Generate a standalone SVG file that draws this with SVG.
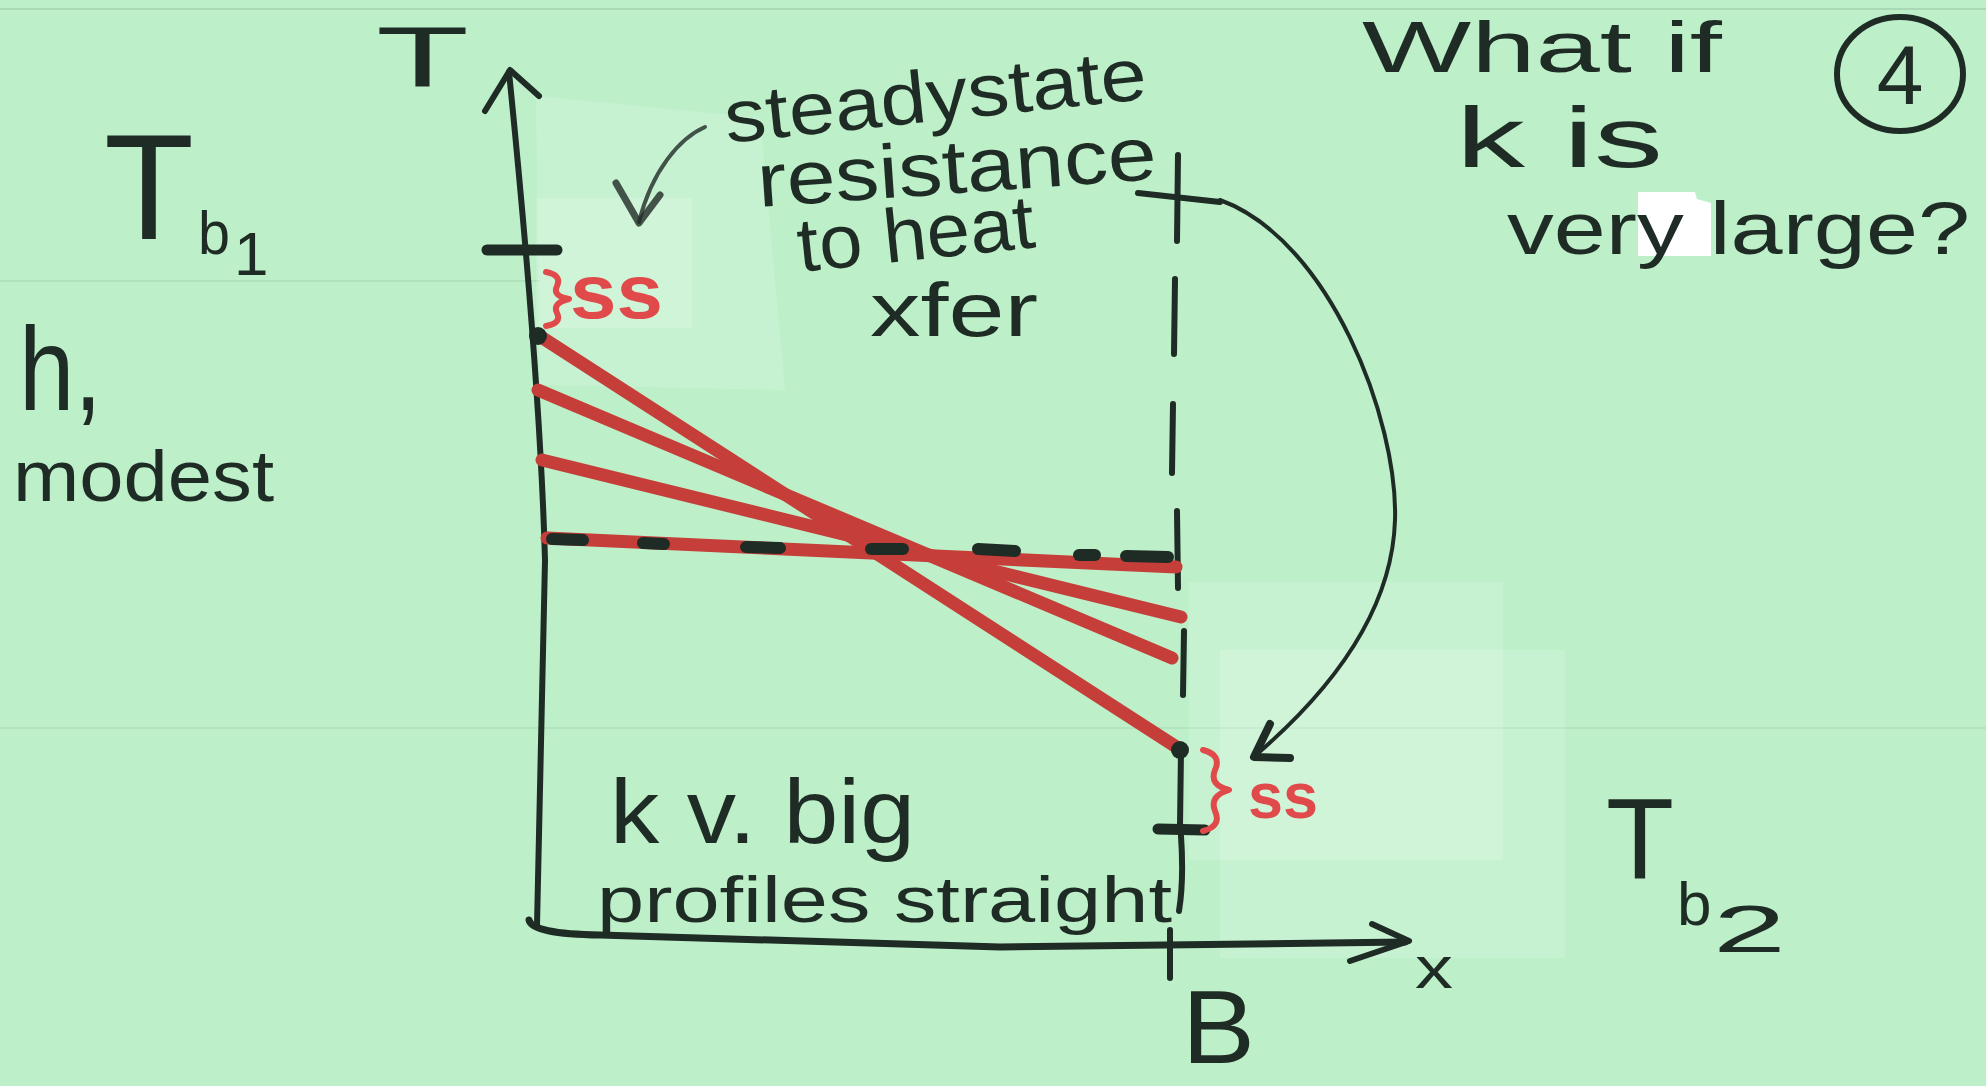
<svg xmlns="http://www.w3.org/2000/svg" width="1986" height="1086" viewBox="0 0 1986 1086">
<defs>
<style>
.ink{fill:none;stroke:#1f2b25;stroke-linecap:round;stroke-linejoin:round}
.red{fill:none;stroke:#c63e3a;stroke-width:13;stroke-linecap:round}
.rb{fill:none;stroke:#e04a4a;stroke-width:6;stroke-linecap:round;stroke-linejoin:round}
.t{font-family:"Liberation Sans","DejaVu Sans",sans-serif;fill:#1f2b25}
.rt{font-family:"Liberation Sans","DejaVu Sans",sans-serif;fill:#e04a4a;font-weight:bold}
.tape{fill:#ffffff;opacity:0.16}
</style>
</defs>
<rect width="1986" height="1086" fill="#bdf0c9"/>
<line x1="0" y1="9" x2="1986" y2="9" stroke="#a8d8b4" stroke-width="2"/>
<line x1="0" y1="281" x2="540" y2="281" stroke="#b0e2bc" stroke-width="2"/>
<line x1="0" y1="728" x2="1986" y2="728" stroke="#b3e4bf" stroke-width="2"/>
<g id="tapes">
<polygon class="tape" points="536,96 760,118 785,390 540,385"/>
<rect class="tape" x="536" y="198" width="156" height="130"/>
<rect class="tape" x="1189" y="582" width="314" height="278"/>
<rect class="tape" x="1220" y="650" width="345" height="308"/>
</g>
<g id="connectors">
<path id="y-axis" class="ink" stroke-width="6" d="M509,72 Q540,380 545,560 L537,926"/>
<path class="ink" stroke-width="6" d="M485,111 L510,70 L539,96"/>
<path id="x-axis" class="ink" stroke-width="7" d="M529,920 Q532,934 600,935 L1000,947 L1405,942"/>
<path class="ink" stroke-width="6" d="M1372,924 L1409,941 L1350,961"/>
<line class="ink" stroke-width="11" x1="487" y1="250" x2="557" y2="250"/>
<line class="ink" stroke-width="6" x1="1170" y1="930" x2="1170" y2="978"/>
<g id="boundary-dashes" class="ink" stroke-width="6">
<line x1="1178" y1="155" x2="1177" y2="241"/>
<line x1="1138" y1="193" x2="1220" y2="202"/>
<line x1="1175" y1="279" x2="1174" y2="354"/>
<line x1="1173" y1="404" x2="1172" y2="473"/>
<line x1="1177" y1="511" x2="1178" y2="588"/>
<line x1="1184" y1="631" x2="1183" y2="695"/>
<path d="M1181,750 L1180,826 M1181,836 Q1184,880 1179,911"/>
<line stroke-width="11" x1="1158" y1="829" x2="1205" y2="830"/>
</g>
<path id="curved-arrow" class="ink" stroke-width="4" d="M1220,200 C1330,240 1398,420 1395,520 C1392,620 1320,700 1256,755"/>
<path class="ink" stroke-width="8" d="M1270,724 L1254,757 L1290,758"/>
<path id="small-arrow" class="ink" stroke-width="4" opacity="0.8" d="M705,127 C680,138 652,170 639,222"/>
<path class="ink" stroke-width="7" opacity="0.8" d="M616,183 L639,223 L660,195"/>
</g>
<g id="profiles">
<line class="red" x1="538" y1="335" x2="1178" y2="748"/>
<line class="red" x1="538" y1="390" x2="1172" y2="658"/>
<line class="red" x1="542" y1="460" x2="1181" y2="617"/>
<line class="red" x1="547" y1="538" x2="1176" y2="567"/>
<g class="ink" stroke-width="12">
<line x1="552" y1="539" x2="583" y2="540"/>
<line x1="643" y1="543" x2="664" y2="544"/>
<line x1="746" y1="547" x2="780" y2="548"/>
<line x1="871" y1="549" x2="903" y2="549"/>
<line x1="978" y1="549" x2="1015" y2="551"/>
<line x1="1079" y1="555" x2="1095" y2="555"/>
<line x1="1126" y1="556" x2="1168" y2="557"/>
</g>
<circle cx="538" cy="336" r="9" fill="#1f2b25"/>
<circle cx="1180" cy="750" r="9" fill="#1f2b25"/>
</g>
<g id="ss-top">
<path class="rb" d="M546,272 Q562,275 557,286 Q552,296 569,299 Q552,303 557,313 Q562,323 546,326"/>
<text class="rt" x="570" y="318" font-size="76" textLength="93" lengthAdjust="spacingAndGlyphs">ss</text>
</g>
<g id="ss-bottom">
<path class="rb" d="M1203,750 Q1222,755 1215,770 Q1209,785 1229,790 Q1209,796 1215,811 Q1222,826 1203,831"/>
<text class="rt" x="1248" y="818" font-size="64" textLength="70" lengthAdjust="spacingAndGlyphs">ss</text>
</g>
<g id="label-T">
<text class="t" x="376" y="86" font-size="85" textLength="93" lengthAdjust="spacingAndGlyphs">T</text>
</g>
<g id="label-Tb1">
<text class="t" x="104" y="239" font-size="150" textLength="90" lengthAdjust="spacingAndGlyphs">T</text>
<text class="t" x="198" y="254" font-size="62" textLength="32" lengthAdjust="spacingAndGlyphs">b</text>
<text class="t" x="234" y="275" font-size="62">1</text>
</g>
<g id="label-h">
<text class="t" x="19" y="410" font-size="118" textLength="83" lengthAdjust="spacingAndGlyphs">h,</text>
<text class="t" x="13" y="501" font-size="72" textLength="261" lengthAdjust="spacingAndGlyphs">modest</text>
</g>
<g id="note-steadystate">
<text class="t" x="727" y="143" font-size="74" textLength="424" lengthAdjust="spacingAndGlyphs" transform="rotate(-6 727 143)">steadystate</text>
<text class="t" x="759" y="207" font-size="76" textLength="400" lengthAdjust="spacingAndGlyphs" transform="rotate(-4 759 207)">resistance</text>
<text class="t" x="800" y="272" font-size="76" textLength="238" lengthAdjust="spacingAndGlyphs" transform="rotate(-6 800 272)">to heat</text>
<text class="t" x="870" y="336" font-size="76" textLength="168" lengthAdjust="spacingAndGlyphs">xfer</text>
</g>
<g id="question">
<polygon points="1638,192 1695,192 1697,199 1711,203 1711,256 1638,256" fill="#ffffff"/>
<text class="t" x="1362" y="72" font-size="72" textLength="360" lengthAdjust="spacingAndGlyphs">What if</text>
<text class="t" x="1456" y="167" font-size="86" textLength="207" lengthAdjust="spacingAndGlyphs">k is</text>
<text class="t" x="1507" y="254" font-size="74" textLength="463" lengthAdjust="spacingAndGlyphs">very large?</text>
</g>
<g id="page-number">
<ellipse class="ink" stroke-width="6" cx="1900" cy="74" rx="63" ry="57"/>
<text class="t" x="1900" y="104" font-size="84" text-anchor="middle">4</text>
</g>
<g id="note-kbig">
<text class="t" x="610" y="843" font-size="90" textLength="305" lengthAdjust="spacingAndGlyphs">k v. big</text>
<text class="t" x="597" y="922" font-size="64" textLength="575" lengthAdjust="spacingAndGlyphs">profiles straight</text>
</g>
<g id="label-Tb2">
<text class="t" x="1606" y="879" font-size="115" textLength="68" lengthAdjust="spacingAndGlyphs">T</text>
<text class="t" x="1677" y="925" font-size="62">b</text>
<text class="t" x="1713" y="952" font-size="66" textLength="73" lengthAdjust="spacingAndGlyphs">2</text>
</g>
<g id="label-B">
<text class="t" x="1182" y="1063" font-size="104" textLength="73" lengthAdjust="spacingAndGlyphs">B</text>
</g>
<g id="label-x">
<text class="t" x="1415" y="988" font-size="60" textLength="38" lengthAdjust="spacingAndGlyphs">x</text>
</g>
</svg>
